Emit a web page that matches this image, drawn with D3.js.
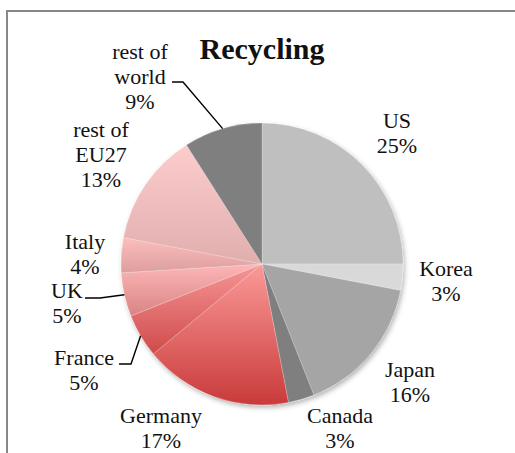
<!DOCTYPE html>
<html>
<head>
<meta charset="utf-8">
<script src="https://cdn.jsdelivr.net/npm/d3@7"></script>
<style>
  html, body { margin: 0; padding: 0; background: #fff; }
  svg { display: block; }
  text { font-family: "Liberation Serif", "Times New Roman", serif; fill: #111; }
</style>
</head>
<body>
<svg id="chart" width="515" height="453"></svg>
<script>
// Share of recycling by country / region (percent)
const countries = ["US", "Korea", "Japan", "Canada", "Germany", "France", "UK", "Italy", "rest of EU27", "rest of world"];
const shares    = [25, 3, 16, 3, 17, 5, 5, 4, 13, 9];
const chartTitle = "Recycling";

// Slice fills: flat greys for non-EU entries, top-to-bottom gradients for EU ones
const fills = {
  "US":            ["#bfbfbf", "#bfbfbf"],
  "Korea":         ["#d9d9d9", "#d9d9d9"],
  "Japan":         ["#a5a5a5", "#a5a5a5"],
  "Canada":        ["#7f7f7f", "#7f7f7f"],
  "Germany":       ["#fb9a98", "#c93a3a"],
  "France":        ["#f79696", "#d04a4a"],
  "UK":            ["#fdb6b6", "#d98484"],
  "Italy":         ["#fdbdbd", "#dc9e9e"],
  "rest of EU27":  ["#fdcccc", "#e1aeae"],
  "rest of world": ["#7f7f7f", "#7f7f7f"]
};

// Label layout: text lines, centre offset from the pie centre, optional leader elbow
const labelLayout = {
  "US":            { lines: ["US"],               dx: 135,  dy: -136 },
  "Korea":         { lines: ["Korea"],            dx: 184,  dy: 12 },
  "Japan":         { lines: ["Japan"],            dx: 148,  dy: 113 },
  "Canada":        { lines: ["Canada"],           dx: 78,   dy: 159 },
  "Germany":       { lines: ["Germany"],          dx: -101, dy: 159 },
  "France":        { lines: ["France"],           dx: -178, dy: 101, leader: { textEnd: -143, elbow: -131, y: 100 } },
  "UK":            { lines: ["UK"],               dx: -195, dy: 34,  leader: { textEnd: -177, elbow: -162, y: 34 } },
  "Italy":         { lines: ["Italy"],            dx: -177, dy: -15 },
  "rest of EU27":  { lines: ["rest of", "EU27"],  dx: -161, dy: -127 },
  "rest of world": { lines: ["rest of", "world"], dx: -122, dy: -205, leader: { textEnd: -90, elbow: -79, y: -182 } }
};

const width = 515, height = 453;
const cx = 262, cy = 264, radius = 141;
const lineGap = 24.8;

const svg = d3.select("#chart");
const defs = svg.append("defs");

// soft drop shadow under the pie
const shadow = defs.append("filter").attr("id", "pieShadow")
  .attr("x", "-20%").attr("y", "-20%").attr("width", "140%").attr("height", "140%");
shadow.append("feDropShadow")
  .attr("dx", 1.5).attr("dy", 2.5).attr("stdDeviation", 2.5)
  .attr("flood-color", "#000").attr("flood-opacity", 0.3);

countries.forEach((c, i) => {
  const g = defs.append("linearGradient").attr("id", "grad" + i)
    .attr("x1", 0).attr("y1", 0).attr("x2", 0).attr("y2", 1);
  g.append("stop").attr("offset", "0%").attr("stop-color", fills[c][0]);
  g.append("stop").attr("offset", "100%").attr("stop-color", fills[c][1]);
});

// outer frame of the chart area
svg.append("rect")
  .attr("x", 7).attr("y", 11).attr("width", 530).attr("height", 470)
  .attr("fill", "none").attr("stroke", "#878787").attr("stroke-width", 2);

// title
svg.append("text")
  .attr("x", cx).attr("y", 59)
  .attr("text-anchor", "middle")
  .style("font-size", "30px").style("font-weight", "bold")
  .text(chartTitle);

const data = countries.map((c, i) => ({ name: c, value: shares[i], index: i }));

const pie = d3.pie().value(d => d.value).sort(null)
  .startAngle(0).endAngle(2 * Math.PI);
const arcs = pie(data);
const arc = d3.arc().innerRadius(0).outerRadius(radius);

const pieG = svg.append("g").attr("transform", `translate(${cx},${cy})`);

pieG.append("g").attr("filter", "url(#pieShadow)")
  .selectAll("path").data(arcs).join("path")
  .attr("d", arc)
  .attr("fill", d => `url(#grad${d.data.index})`)
  .attr("stroke", "#ffffff").attr("stroke-opacity", 0.35).attr("stroke-width", 0.6);

// labels with percentage line
const labelsG = pieG.append("g");
arcs.forEach(a => {
  const lay = labelLayout[a.data.name];
  const lines = lay.lines.concat([d3.format(".0f")(a.data.value) + "%"]);
  const t = labelsG.append("text")
    .attr("text-anchor", "middle")
    .style("font-size", "22px");
  lines.forEach((ln, k) => {
    t.append("tspan")
      .attr("x", lay.dx)
      .attr("y", lay.dy + k * lineGap)
      .text(ln);
  });

  if (lay.leader) {
    const mid = (a.startAngle + a.endAngle) / 2;
    const px = radius * Math.sin(mid);
    const py = -radius * Math.cos(mid);
    const L = lay.leader;
    labelsG.append("path")
      .attr("d", d3.line()([[L.textEnd, L.y], [L.elbow, L.y], [px, py]]))
      .attr("fill", "none").attr("stroke", "#000").attr("stroke-width", 1.4);
  }
});
</script>
</body>
</html>
